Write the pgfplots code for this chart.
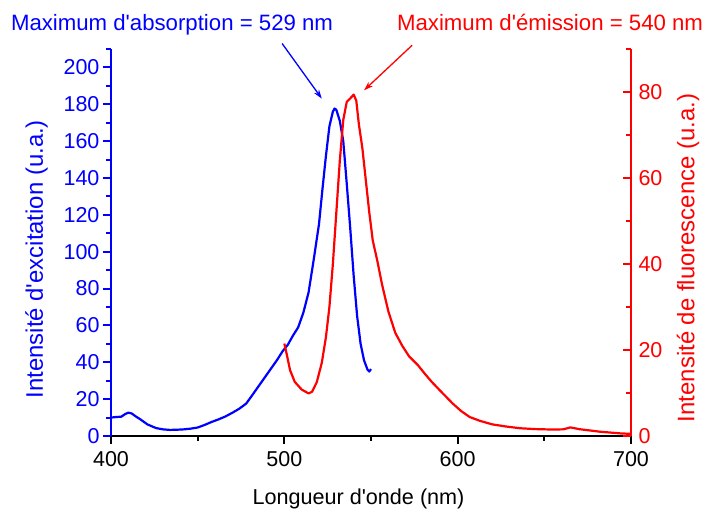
\documentclass[border=0pt]{standalone}
\usepackage{pgfplots}
\pgfplotsset{compat=1.18}
\usetikzlibrary{arrows.meta}
\usepackage{fontspec}
\setmainfont{Liberation Sans}
\newfontfamily\arial{Liberation Sans}
\definecolor{myblue}{RGB}{0,0,255}
\definecolor{myred}{RGB}{255,0,0}
\newcommand{\tickf}{\fontsize{21.5}{25}\selectfont}
\newcommand{\annf}{\arial\fontsize{22.2}{26}\selectfont}
\newcommand{\xlabf}{\arial\fontsize{21.6}{26}\selectfont}
\newcommand{\ylabf}{\arial\fontsize{23.9}{28}\selectfont}
\begin{document}
\begin{tikzpicture}
\pgfplotsset{
  every axis/.append style={
    scale only axis, width=520pt, height=387pt,
    xmin=400, xmax=700,
    /pgf/number format/assume math mode=true,
    tick label style={font=\tickf},
    major tick length=8pt, minor tick length=5pt,
    clip=false,
  }
}
\begin{axis}[
  name=ax,
  axis x line*=bottom, axis y line*=left,
  ymin=0, ymax=210,
  xtick={400,500,600,700}, minor xtick={450,550,650},
  ytick={0,20,...,200}, minor ytick={10,30,...,210},
  tick align=outside,
  x axis line style={black, line width=2.5pt, -},
  y axis line style={myblue, line width=2.5pt, -},
  every x tick/.append style={black, line width=2pt},
  every y tick/.append style={myblue, line width=2pt},
  yticklabel style={myblue},
  xticklabel style={yshift=-4pt},
  xlabel={Longueur d'onde (nm)},
  xlabel style={font=\xlabf, at={(rel axis cs:0.476,-0.163)}, anchor=center},
  ylabel={Intensité d'excitation (u.a.)},
  ylabel style={font=\ylabf, myblue, at={(rel axis cs:-0.143,0.457)}, anchor=center},
]
\coordinate (BL) at (rel axis cs:0,0);
\coordinate (TR) at (rel axis cs:1,1);
\addplot[myblue, line width=2.2pt, line join=round] coordinates {
(400,10.0) (403,10.3) (406,10.5) (408,11.8) (410,12.7) (412,12.2) (414,10.8)
(417,9.0) (421,6.3) (426,4.3) (430,3.6) (434,3.3) (438,3.4) (442,3.6)
(446,4.0) (450,4.6) (454,6.0) (458,7.6) (462,9.0) (466,10.6) (470,12.6)
(474,14.8) (478,17.6) (481,21.5) (484,25.5) (487,29.5) (490,33.5) (493,37.5)
(496,41.5) (499,46) (502,49.5) (505,54.5) (508,59) (511,67) (514,78)
(517,96) (520,115) (522,134) (524,152) (526,168) (528,176) (529,177.7)
(530,177) (532,171) (534,160) (536,137) (538,113) (540,87) (542,65)
(544,50) (546,41) (548,36) (549,35) (550,36.3)
};
\node[myblue, font=\annf, anchor=base] at (axis cs:435.2,220.3) {Maximum d'absorption = 529 nm};
\node[myred, font=\annf, anchor=base] at (axis cs:653.3,220.3) {Maximum d'émission = 540 nm};
\draw[myblue, line width=1.3pt, -{Stealth[length=9pt,width=6pt]}] (axis cs:498.7,213) -- (axis cs:521.6,183.1);
\draw[myred, line width=1.3pt, -{Stealth[length=9pt,width=6pt]}] (axis cs:573.7,212) -- (axis cs:546,187.6);
\end{axis}
\begin{axis}[
  axis x line=none, axis y line*=right,
  ymin=0, ymax=90,
  ytick={0,20,...,80}, minor ytick={10,30,...,90},
  tick align=inside,
  y axis line style={myred, line width=2.5pt, -},
  every y tick/.append style={myred, line width=2pt},
  yticklabel style={myred, xshift=4pt},
  ylabel={Intensité de fluorescence (u.a.)},
  ylabel style={font=\ylabf, myred, at={(rel axis cs:1.1096,0.46)}, anchor=center},
]
\addplot[myred, line width=2.2pt, line join=round] coordinates {
(500,21.5) (501.5,18.8) (503.3,15.3) (506,12.6) (510,10.8) (514,9.9) (516,10.3)
(518.7,12.5) (521.6,17) (524,23) (526,30) (528,40) (530,52) (532,64)
(534,73.5) (536,77.7) (538,78.5) (540,79.4) (541.5,78) (543,72.5) (545,67)
(547,59.5) (549,52) (551,45.5) (553.5,41) (556.5,35) (560,29) (564,24)
(568,21) (572,18.5) (577,16.5) (581,14.5) (585,12.6) (590,10.5) (597,7.6)
(602,5.8) (607,4.4) (613,3.5) (620,2.7) (628,2.2) (636,1.8) (645,1.6)
(655,1.5) (661,1.55) (665,2.0) (670,1.6) (676,1.3) (682,1.0) (688,0.8)
(694,0.6) (700,0.5)
};
\end{axis}
\pgfresetboundingbox
\path[use as bounding box] ([shift={(-111pt,-74pt)}]BL) rectangle ([shift={(75pt,49pt)}]TR);
\end{tikzpicture}
\end{document}
